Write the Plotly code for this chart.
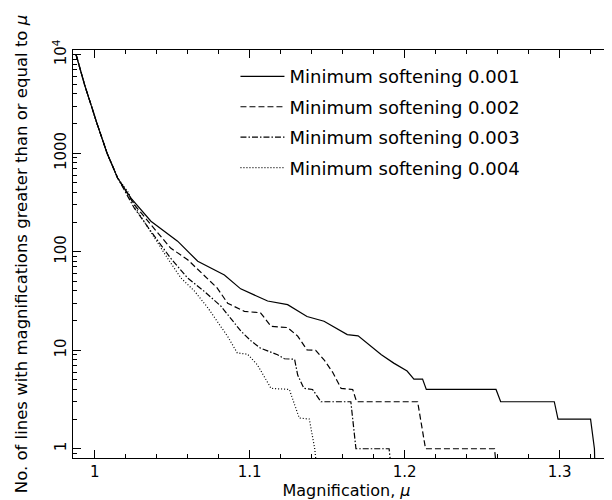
import plotly.graph_objects as go

names = ["Minimum softening 0.001", "Minimum softening 0.002",
         "Minimum softening 0.003", "Minimum softening 0.004"]

x_001 = [0.988, 0.9934, 1.0015, 1.008, 1.0148, 1.0234, 1.0363, 1.0535, 1.0665, 1.0837,
         1.0942, 1.105, 1.1116, 1.1245, 1.137, 1.148, 1.1535, 1.163, 1.170, 1.177,
         1.185, 1.193, 1.2016, 1.206, 1.2116, 1.214, 1.259, 1.262, 1.2966, 1.299,
         1.320, 1.3225, 1.323]
y_001 = [10000, 5000, 2000, 1000, 560, 351, 204, 128, 80, 58,
         42, 35, 31.6, 29, 22, 19.7, 17.6, 14.4, 14, 11.3,
         9, 7.4, 6.15, 5.1, 5.1, 4, 4, 3, 3, 2,
         2, 1, 0.5]

x_002 = [0.988, 0.9934, 1.0015, 1.008, 1.0148, 1.0256, 1.0363, 1.049, 1.060, 1.0707,
         1.079, 1.0858, 1.0966, 1.107, 1.1138, 1.1245, 1.131, 1.137, 1.1426, 1.148,
         1.1535, 1.159, 1.1665, 1.169, 1.2084, 1.2135, 1.258, 1.260]
y_002 = [10000, 5000, 2000, 1000, 560, 300, 188, 109, 83, 58,
         43, 30, 24.8, 24, 17.5, 17, 13.9, 10.1, 10, 8,
         6, 4.1, 4, 3, 3, 1, 1, 0.5]

x_003 = [0.988, 0.9934, 1.0015, 1.008, 1.0148, 1.0256, 1.0363, 1.049, 1.060, 1.0707,
         1.0815, 1.0944, 1.101, 1.107, 1.118, 1.1224, 1.129, 1.131, 1.135, 1.1406,
         1.146, 1.1653, 1.1686, 1.190, 1.192]
y_003 = [10000, 5000, 2000, 1000, 560, 277, 161, 86, 54, 39.6,
         28, 15.6, 12.4, 10.5, 9, 8.2, 8.1, 5.6, 4.1, 4,
         3, 3, 1, 1, 0.5]

x_004 = [0.988, 0.9934, 1.0015, 1.008, 1.0148, 1.0213, 1.0277, 1.0385, 1.047, 1.0557,
         1.0643, 1.073, 1.079, 1.0858, 1.092, 1.0987, 1.105, 1.1138, 1.1256, 1.132,
         1.1385, 1.142, 1.144]
y_004 = [10000, 5000, 2000, 1000, 560, 410, 257, 138, 86, 54,
         40, 27, 19.6, 13.8, 9.4, 9.1, 7.1, 4.1, 4, 2.05,
         2, 1, 0.5]

x_range = [0.986, 1.339]
y_range_log = [-0.094, 4.048]   # log10 of 0.805 .. 11160
y_label_alias = {"10k": "10<sup>4</sup>"}

series = [(x_001, y_001, "solid"), (x_002, y_002, "6px,3px"),
          (x_003, y_003, "6px,2px,1.5px,2px"), (x_004, y_004, "1px,2px")]

fig = go.Figure()
for i, (xs, ys, dash) in enumerate(series):
    fig.add_trace(go.Scatter(x=xs, y=ys, mode="lines", name=names[i],
                             legendgroup=f"g{i}",
                             line=dict(color="black", width=1.2, dash=dash)))

FONT = "DejaVu Sans, sans-serif"
fig.update_layout(
    width=612, height=500,
    margin=dict(l=65, r=0, t=42, b=50),
    paper_bgcolor="white", plot_bgcolor="white",
    font=dict(family=FONT, color="black", size=15),
    showlegend=True,
    legend=dict(x=0.297, y=0.98, xanchor="left", yanchor="top",
                bgcolor="rgba(0,0,0,0)", font=dict(size=18, family=FONT),
                itemwidth=44, tracegroupgap=4),
)
fig.update_xaxes(
    range=x_range, tickmode="linear", tick0=1, dtick=0.1,
    ticks="inside", ticklen=8, tickwidth=1, tickcolor="black",
    showline=True, linecolor="black", linewidth=1, mirror="ticks",
    showgrid=False, zeroline=False,
    minor=dict(ticks="inside", ticklen=4, tickmode="linear", tick0=1, dtick=0.02,
               tickcolor="black", showgrid=False),
    title=dict(text="Magnification, <i>μ</i>", font=dict(size=16), standoff=1),
    tickfont=dict(size=15),
)
fig.update_yaxes(
    type="log", range=y_range_log, dtick=1, labelalias=y_label_alias, tickangle=-90,
    ticks="inside", ticklen=8, tickwidth=1, tickcolor="black",
    showline=True, linecolor="black", linewidth=1, mirror="ticks",
    showgrid=False, zeroline=False,
    minor=dict(ticks="inside", ticklen=4, dtick="D1", tickcolor="black", showgrid=False),
    title=dict(text="No. of lines with magnifications greater than or equal to <i>μ</i>",
               font=dict(size=16.5), standoff=17),
    tickfont=dict(size=15),
)
fig.write_html("out.html")
